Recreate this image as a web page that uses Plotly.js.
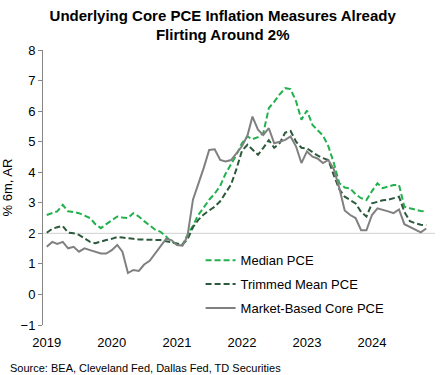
<!DOCTYPE html>
<html>
<head>
<meta charset="utf-8">
<script src="https://cdn.plot.ly/plotly-3.0.1.min.js"></script>
<style>html,body{margin:0;padding:0;background:#fff;}#chart{width:441px;height:375px;}</style>
</head>
<body>
<div id="chart"></div>
<script>
// Monthly data, Jan 2019 .. Nov 2024 (% 6m, AR)
var startYear = 2019, startMonth = 1;
var medianPCE = [2.6, 2.65, 2.72, 2.93, 2.72, 2.7, 2.66, 2.58, 2.5, 2.3, 2.17, 2.3,
  2.42, 2.55, 2.52, 2.5, 2.66, 2.55, 2.4, 2.25, 2.12, 2.05, 1.9, 1.72,
  1.65, 1.62, 1.95, 2.25, 2.6, 2.85, 3.1, 3.3, 3.55, 3.95, 4.25, 4.57,
  4.95, 5.17, 5.08, 5.15, 5.28, 6.1, 6.3, 6.55, 6.75, 6.72, 6.32, 5.72,
  6.02, 5.55, 5.38, 5.2, 4.85, 4.3, 3.65, 3.5, 3.47, 3.28, 3.15, 3.09,
  3.38, 3.64, 3.48, 3.52, 3.58, 3.58, 2.87, 2.82, 2.77, 2.73, 2.71];
var trimmedMeanPCE = [2.02, 2.15, 2.2, 2.24, 2.02, 2.0, 1.95, 1.82, 1.72, 1.68, 1.74, 1.78,
  1.82, 1.88, 1.86, 1.83, 1.82, 1.8, 1.8, 1.8, 1.78, 1.78, 1.74, 1.7,
  1.65, 1.63, 1.8, 2.2, 2.44, 2.62, 2.75, 2.87, 3.05, 3.3, 3.6, 4.1,
  4.7, 4.9, 4.73, 4.57, 4.8, 5.05, 4.8, 4.95, 5.3, 5.35, 5.0, 4.8,
  4.78, 4.65, 4.55, 4.46, 4.4, 3.9, 3.45, 3.2, 3.1, 2.98, 2.7, 2.55,
  2.98, 3.04, 3.08, 3.1, 3.15, 3.2, 2.7, 2.4, 2.33, 2.28, 2.27];
var marketBasedCorePCE = [1.56, 1.72, 1.65, 1.72, 1.51, 1.56, 1.4, 1.51, 1.45, 1.4, 1.34, 1.34,
  1.45, 1.62, 1.4, 0.7, 0.8, 0.77, 0.98, 1.1, 1.35, 1.6, 1.82, 1.78,
  1.62, 1.6, 1.9, 3.1, 3.6, 4.15, 4.73, 4.75, 4.4, 4.35, 4.4, 4.62,
  4.85, 5.2, 5.82, 5.39, 5.22, 5.44, 4.95, 5.0, 5.06, 5.17, 4.84, 4.3,
  4.68, 4.51, 4.45, 4.3, 4.4, 4.1, 3.5, 2.75, 2.6, 2.5, 2.1, 2.1,
  2.6, 2.82, 2.78, 2.72, 2.66, 2.78, 2.3, 2.2, 2.1, 2.03, 2.16];
var yearTicks = ['2019', '2020', '2021', '2022', '2023', '2024'];

var dates = [];
for (var i = 0; i < medianPCE.length; i++) {
  var mm = startMonth - 1 + i;
  var y = startYear + Math.floor(mm / 12);
  var m = (mm % 12) + 1;
  dates.push(y + '-' + (m < 10 ? '0' + m : m) + '-01');
}

var traces = [
  {x: dates, y: medianPCE, name: 'Median PCE', type: 'scatter', mode: 'lines',
   line: {color: '#22b14c', width: 2, dash: '6px,3px'}, legendgroup: 'a'},
  {x: dates, y: trimmedMeanPCE, name: 'Trimmed Mean PCE', type: 'scatter', mode: 'lines',
   line: {color: '#2d5a3c', width: 2, dash: '6px,3px'}, legendgroup: 'b'},
  {x: dates, y: marketBasedCorePCE, name: 'Market-Based Core PCE', type: 'scatter', mode: 'lines',
   line: {color: '#808080', width: 2}, legendgroup: 'c'}
];

var layout = {
  width: 441, height: 375,
  margin: {l: 43, r: 6, t: 50, b: 50},
  paper_bgcolor: '#fff', plot_bgcolor: '#fff',
  font: {family: 'Arial, Liberation Sans, sans-serif', size: 13, color: '#000'},
  title: {text: '<b>Underlying Core PCE Inflation Measures Already<br>Flirting Around 2%</b>',
          font: {size: 15, color: '#000'}, x: 0.505, xanchor: 'center',
          yref: 'container', y: 0.945, yanchor: 'middle'},
  xaxis: {type: 'date', range: ['2018-12-11', '2024-12-20'],
          tickvals: yearTicks.map(function (t) { return t + '-01-01'; }),
          ticktext: yearTicks, showgrid: false, zeroline: false, showline: false, ticks: '',
          ticklabelstandoff: 8,
          tickfont: {size: 13, color: '#000'}},
  yaxis: {range: [-1, 8], dtick: 1, showgrid: false, zeroline: false, showline: true,
          linecolor: '#868686', linewidth: 1, ticks: 'outside', ticklen: 4, tickcolor: '#868686',
          tickfont: {size: 13, color: '#000'},
          title: {text: '% 6m, AR', font: {size: 13, color: '#000'}, standoff: 8}},
  shapes: [{type: 'line', xref: 'paper', x0: 0, x1: 1, yref: 'y', y0: 2, y1: 2,
            line: {color: '#d0d0d0', width: 1}, layer: 'below'}],
  showlegend: true,
  legend: {x: 0.402, xanchor: 'left', y: 0.29, yanchor: 'top', bgcolor: 'rgba(0,0,0,0)',
           font: {size: 13, color: '#000'}, tracegroupgap: 4},
  annotations: [{text: 'Source: BEA, Cleveland Fed, Dallas Fed, TD Securities', xref: 'paper', yref: 'paper',
                 x: -0.09, xanchor: 'left', y: -0.155, yanchor: 'middle', showarrow: false,
                 font: {size: 11, color: '#000'}}]
};

Plotly.newPlot('chart', traces, layout, {displayModeBar: false, staticPlot: true});
</script>
</body>
</html>
